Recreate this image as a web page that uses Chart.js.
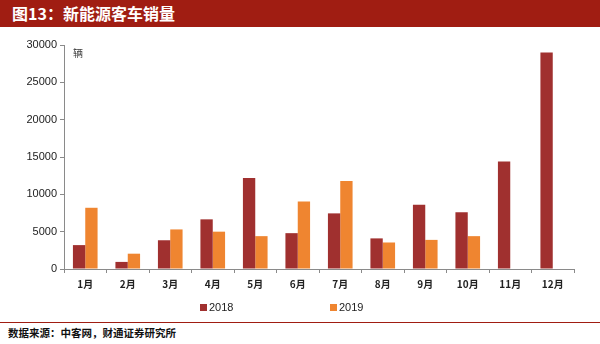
<!DOCTYPE html>
<html>
<head>
    <meta charset="utf-8">
    <title>新能源客车销量</title>
    <script src="https://cdn.jsdelivr.net/npm/chart.js"></script>
    <style>
        body {
            margin: 0;
            width: 600px;
            height: 344px;
            background: #fff;
            font-family: "Noto Sans CJK SC", "Liberation Sans", sans-serif;
            overflow: hidden;
        }
        .title {
            height: 27px;
            line-height: 27px;
            background: #a01d12;
            color: #fff;
            font-weight: 700;
            font-size: 16px;
            padding-left: 12px;
        }
        .wrap {
            position: relative;
            width: 600px;
            height: 293px;
        }
        .source {
            border-top: 1.5px solid #a01d12;
            margin-top: 2px;
            font-size: 10.5px;
            font-weight: 700;
            padding-left: 8px;
            line-height: 20px;
            color: #111;
        }
    </style>
</head>
<body>
    <div class="title">图13：新能源客车销量</div>
    <div class="wrap"><canvas id="busChart"></canvas></div>
    <div class="source">数据来源：中客网，财通证券研究所</div>

    <script>
        const months = ['1月', '2月', '3月', '4月', '5月', '6月', '7月', '8月', '9月', '10月', '11月', '12月'];
        const sales2018 = [3200, 950, 3850, 6650, 12200, 4800, 7450, 4100, 8600, 7600, 14400, 29000];
        const sales2019 = [8200, 2050, 5300, 5000, 4400, 9050, 11800, 3550, 3900, 4400, null, null];
        const yTicks = [0, 5000, 10000, 15000, 20000, 25000, 30000];

        // unit label in the plot corner + a wide-spaced legend under the axis
        const extras = {
            id: 'extras',
            afterDraw(chart) {
                const ctx = chart.ctx;
                const area = chart.chartArea;
                ctx.save();
                ctx.font = '10px "Noto Sans CJK SC"';
                ctx.fillStyle = '#444';
                ctx.textBaseline = 'middle';
                ctx.fillText('辆', area.left + 9, area.top + 8);

                const legendX = [200, 330];
                const legendY = chart.height - 12;
                ctx.font = '11px "Liberation Sans", Arial';
                chart.data.datasets.forEach((ds, i) => {
                    ctx.fillStyle = ds.backgroundColor;
                    ctx.fillRect(legendX[i], legendY - 4, 7, 7);
                    ctx.fillStyle = '#222';
                    ctx.fillText(ds.label, legendX[i] + 9, legendY);
                });
                ctx.restore();
            }
        };

        new Chart(document.getElementById('busChart'), {
            type: 'bar',
            data: {
                labels: months,
                datasets: [{
                    label: '2018',
                    data: sales2018,
                    backgroundColor: '#a0302f'
                }, {
                    label: '2019',
                    data: sales2019,
                    backgroundColor: '#ef8530'
                }]
            },
            options: {
                responsive: true,
                maintainAspectRatio: false,
                animation: false,
                categoryPercentage: 0.58,
                barPercentage: 1.0,
                layout: { padding: { top: 18, right: 26, left: 0, bottom: 25 } },
                plugins: {
                    tooltip: { enabled: false },
                    legend: { display: false }
                },
                scales: {
                    x: {
                        border: { color: '#8a8a8a', width: 1 },
                        grid: {
                            offset: true,
                            drawOnChartArea: false,
                            tickLength: 4,
                            color: '#8a8a8a'
                        },
                        ticks: {
                            color: '#222',
                            padding: 5,
                            font: { family: '"Noto Sans CJK SC"', size: 10, weight: 700 }
                        }
                    },
                    y: {
                        min: 0,
                        max: 30000,
                        afterFit(scale) { scale.width = 64; },
                        afterBuildTicks(scale) { scale.ticks = yTicks.map(v => ({ value: v })); },
                        border: { color: '#8a8a8a', width: 1 },
                        grid: {
                            drawOnChartArea: false,
                            tickLength: 4,
                            color: '#8a8a8a'
                        },
                        ticks: {
                            color: '#222',
                            padding: 3,
                            font: { family: '"Liberation Sans", Arial', size: 11 },
                            callback: v => String(v)
                        }
                    }
                }
            },
            plugins: [extras]
        });
    </script>
</body>
</html>
